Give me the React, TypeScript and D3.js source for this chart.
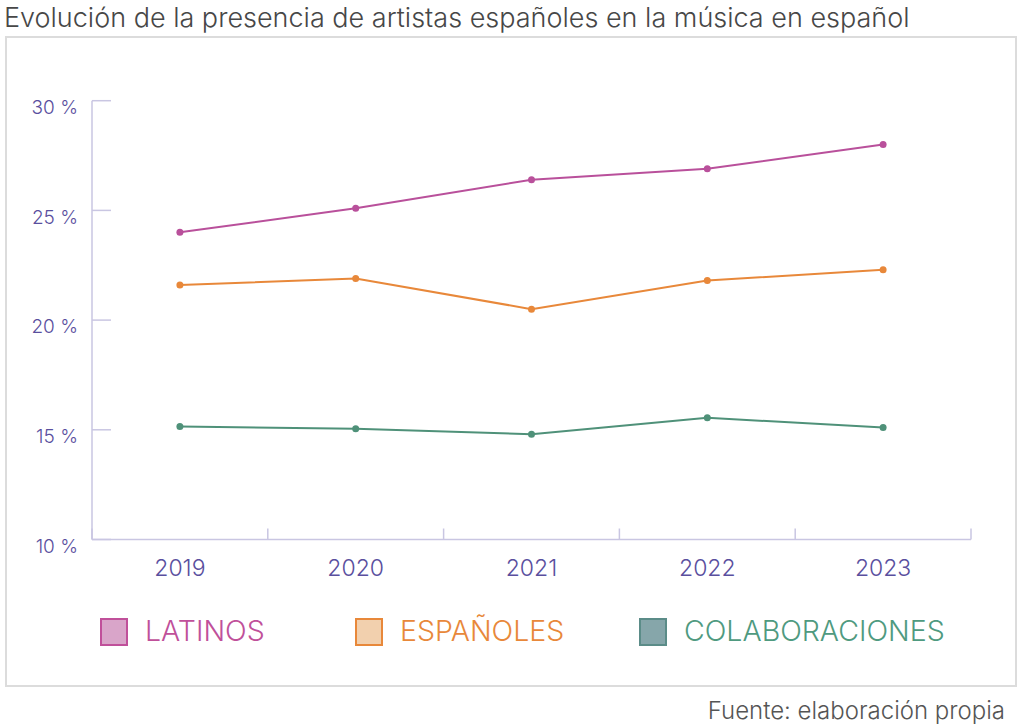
import * as d3 from 'd3';

const YEARS = ['2019', '2020', '2021', '2022', '2023'];
const LATINOS = [24.0, 25.1, 26.4, 26.9, 28.0];
const ESPANOLES = [21.6, 21.9, 20.5, 21.8, 22.3];
const COLABORACIONES = [15.15, 15.05, 14.8, 15.55, 15.1];
const Y_TICKS = [10, 15, 20, 25, 30];

const SERIES = [
  { name: 'LATINOS', values: LATINOS, line: '#b9509b', text: '#c0509a', fill: '#d9a5c9', stroke: '#c0509a', lx: 100 },
  { name: 'ESPAÑOLES', values: ESPANOLES, line: '#e8883a', text: '#e8883a', fill: '#f2d0ae', stroke: '#e8883a', lx: 355 },
  { name: 'COLABORACIONES', values: COLABORACIONES, line: '#4f9179', text: '#4f9a80', fill: '#86a6aa', stroke: '#5b8c88', lx: 639 },
];

const FONT = 'Inter, Roboto, "Liberation Sans", Arial, sans-serif';
const AXIS_TEXT = '#5a4f9e';
const AXIS_LINE = '#c9c6e2';

export default function App() {
  const left = 92;
  const right = 971;
  const top = 100.7;
  const bottom = 539.5;

  const x = d3.scaleBand<string>().domain(YEARS).range([left, right]);
  const y = d3.scaleLinear().domain([10, 30]).range([bottom, top]);
  const cx = (yr: string) => (x(yr) ?? 0) + x.bandwidth() / 2;

  const line = d3
    .line<number>()
    .x((_, i) => cx(YEARS[i]))
    .y((d) => y(d));

  const edges = d3.range(YEARS.length + 1).map((i) => left + i * x.step());

  return (
    <svg
      width={1024}
      height={728}
      style={{ position: 'absolute', left: 0, top: 0, background: '#fff' }}
      fontFamily={FONT}
    >
      <text x={4} y={27} fontSize={27} fill="#474747" fontWeight={300}>
        Evolución de la presencia de artistas españoles en la música en español
      </text>
      <rect x={6} y={37} width={1010} height={649} fill="none" stroke="#dcdcdc" strokeWidth={2} />

      {/* y axis */}
      <line x1={left} x2={left} y1={top} y2={bottom} stroke={AXIS_LINE} strokeWidth={1.5} />
      {Y_TICKS.map((t) => (
        <g key={t}>
          <line x1={left} x2={left + 19} y1={y(t)} y2={y(t)} stroke={AXIS_LINE} strokeWidth={1.5} />
          <text
            x={78}
            y={y(t) + 8}
            textAnchor="end"
            dominantBaseline="middle"
            fontSize={19}
            fontWeight={300}
            fill={AXIS_TEXT}
          >
            {t} %
          </text>
        </g>
      ))}

      {/* x axis */}
      <line x1={left} x2={right} y1={bottom} y2={bottom} stroke={AXIS_LINE} strokeWidth={1.5} />
      {edges.map((e, i) => (
        <line key={i} x1={e} x2={e} y1={bottom - 11} y2={bottom} stroke={AXIS_LINE} strokeWidth={1.5} />
      ))}
      {YEARS.map((yr) => (
        <text
          key={yr}
          x={cx(yr)}
          y={570}
          textAnchor="middle"
          dominantBaseline="middle"
          fontSize={23}
          fontWeight={300}
          fill={AXIS_TEXT}
        >
          {yr}
        </text>
      ))}

      {/* series */}
      {SERIES.map((s) => (
        <g key={s.name}>
          <path d={line(s.values) ?? ''} fill="none" stroke={s.line} strokeWidth={2} />
          {s.values.map((v, i) => (
            <circle key={i} cx={cx(YEARS[i])} cy={y(v)} r={3.5} fill={s.line} />
          ))}
        </g>
      ))}

      {/* legend */}
      {SERIES.map((s) => (
        <g key={s.name} transform={`translate(${s.lx},619)`}>
          <rect x={1} y={0} width={26} height={26} fill={s.fill} stroke={s.stroke} strokeWidth={2} />
          <text x={45} y={14} dominantBaseline="middle" fontSize={28.5} fontWeight={300} fill={s.text}>
            {s.name}
          </text>
        </g>
      ))}

      <text x={1005} y={712} textAnchor="end" dominantBaseline="middle" fontSize={24} fontWeight={300} fill="#555">
        Fuente: elaboración propia
      </text>
    </svg>
  );
}
